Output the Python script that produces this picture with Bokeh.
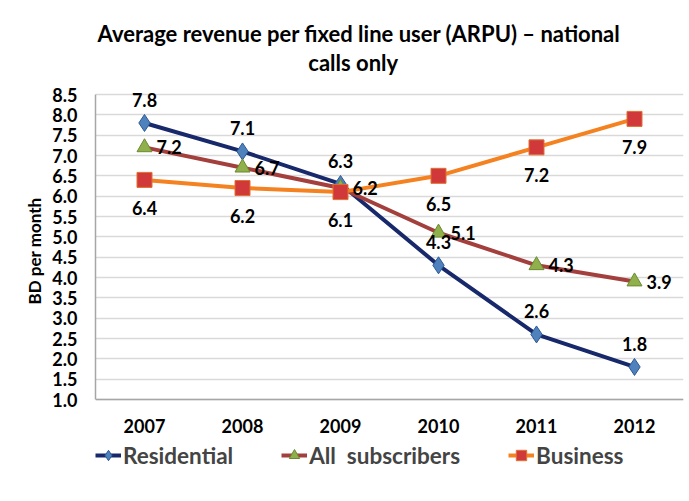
from bokeh.plotting import figure
from bokeh.models import (ColumnDataSource, Range1d, FactorRange, Label, Legend, LegendItem,
                          FixedTicker, NumeralTickFormatter, LabelSet)
from bokeh.core.properties import value
from bokeh.embed import file_html
from bokeh.resources import INLINE

years = ["2007", "2008", "2009", "2010", "2011", "2012"]
residential = [7.8, 7.1, 6.3, 4.3, 2.6, 1.8]
all_subscribers = [7.2, 6.7, 6.2, 5.1, 4.3, 3.9]
business = [6.4, 6.2, 6.1, 6.5, 7.2, 7.9]
y_ticks = [1.0, 1.5, 2.0, 2.5, 3.0, 3.5, 4.0, 4.5, 5.0, 5.5, 6.0, 6.5, 7.0, 7.5, 8.0, 8.5]
title_lines = ["Average revenue per fixed line user (ARPU) \u2013 national", "calls only"]

FONT = "Lato"

src = ColumnDataSource(dict(
    x=years,
    res=residential, res_lbl=[f"{v:.1f}" for v in residential],
    alls=all_subscribers, alls_lbl=[f"{v:.1f}" for v in all_subscribers],
    bus=business, bus_lbl=[f"{v:.1f}" for v in business],
))

# axis 1.0..8.5 occupies 305 px; the frame also holds the title (94 px above) and legend (102 px below)
PX = 305 / 7.5
y_lo = y_ticks[0] - 102 / PX
y_hi = y_ticks[-1] + 94 / PX

p = figure(x_range=FactorRange(*years), y_range=Range1d(y_lo, y_hi),
           frame_width=588, frame_height=501,
           min_border_left=95, min_border_right=6, min_border_top=0, min_border_bottom=0,
           output_backend="svg", toolbar_location=None, title=None)

p.outline_line_color = None
p.background_fill_color = "white"
p.border_fill_color = "white"

p.xgrid.grid_line_color = None
p.ygrid.grid_line_color = "#d9d9d9"
p.ygrid.grid_line_width = 1.5

p.yaxis.ticker = FixedTicker(ticks=y_ticks)
p.yaxis.formatter = NumeralTickFormatter(format="0.0")
p.yaxis.bounds = (y_ticks[0], y_ticks[-1])
p.yaxis.axis_label = "BD per month"
p.yaxis.axis_label_text_font = FONT
p.yaxis.axis_label_text_font_size = "17px"
p.yaxis.axis_label_text_font_style = "bold"
p.yaxis.axis_label_text_color = "#000000"
p.yaxis.axis_label_standoff = 4
p.xaxis.fixed_location = y_ticks[0]
for ax in (p.xaxis[0], p.yaxis[0]):
    ax.major_label_text_font = FONT
    ax.major_label_text_font_size = "18px"
    ax.major_label_text_font_style = "bold"
    ax.major_label_text_color = "#000000"
    ax.major_tick_line_color = None
    ax.minor_tick_line_color = None
    ax.axis_line_color = "#a6a6a6"
    ax.axis_line_width = 1.5
p.yaxis.major_label_standoff = 12
p.xaxis.major_label_standoff = 13

r1 = p.line("x", "res", source=src, line_color="#17286b", line_width=4)
m1 = p.scatter("x", "res", source=src, marker="diamond", size=17,
               fill_color="#4f81bd", line_color="#2c5a94", line_width=1)
r2 = p.line("x", "alls", source=src, line_color="#a3403d", line_width=4)
m2 = p.scatter("x", "alls", source=src, marker="triangle", size=15,
               fill_color="#8fb04a", line_color="#6b8a30", line_width=1)
r3 = p.line("x", "bus", source=src, line_color="#f58220", line_width=4)
m3 = p.scatter("x", "bus", source=src, marker="square", size=15,
               fill_color="#d0383a", line_color="#e07030", line_width=1)

lab_kw = dict(text_font=value(FONT), text_font_size=value("18px"), text_font_style="bold",
              text_color="#000000")
p.add_layout(LabelSet(x="x", y="res", text="res_lbl", source=src, y_offset=23,
                      text_align="center", text_baseline="middle", **lab_kw))
p.add_layout(LabelSet(x="x", y="alls", text="alls_lbl", source=src, x_offset=12,
                      text_align="left", text_baseline="middle", **lab_kw))
p.add_layout(LabelSet(x="x", y="bus", text="bus_lbl", source=src, y_offset=-28,
                      text_align="center", text_baseline="middle", **lab_kw))

# two-line chart title, centred at the chart-area centre
title_kw = dict(text_font=FONT, text_font_size="22px", text_font_style="bold",
                text_color="#000000", text_align="center", text_baseline="middle")
p.add_layout(Label(x=2.69, y=y_ticks[-1], y_offset=61, text=title_lines[0], **title_kw))
p.add_layout(Label(x=2.63, y=y_ticks[-1], y_offset=32, text=title_lines[1], **title_kw))

legend = Legend(items=[
    LegendItem(label="Residential", renderers=[r1, m1]),
    LegendItem(label="All  subscribers", renderers=[r2, m2]),
    LegendItem(label="Business", renderers=[r3, m3]),
], orientation="horizontal", location=(0, 30),
    label_text_font=FONT, label_text_font_size="22.5px", label_text_font_style="bold",
    label_standoff=2, spacing=48, glyph_width=26, glyph_height=32, label_height=32,
    border_line_color=None, background_fill_alpha=0, margin=0, padding=0)
p.add_layout(legend, "center")

open("out.html", "w").write(file_html(p, INLINE))
